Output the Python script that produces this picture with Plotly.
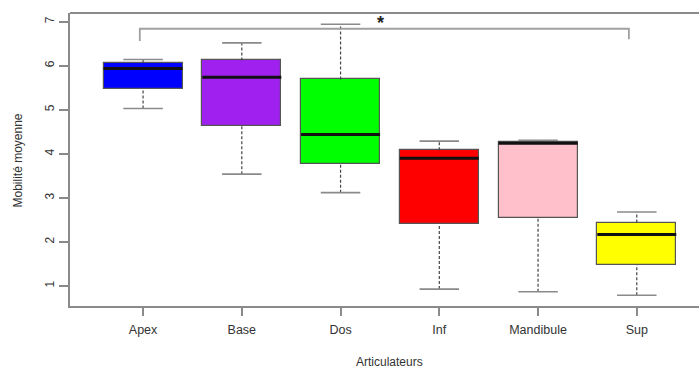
import plotly.graph_objects as go

# Boxplot summary statistics per articulator
categories = ["Apex", "Base", "Dos", "Inf", "Mandibule", "Sup"]
lower_whisker = [5.03, 3.54, 3.12, 0.93, 0.87, 0.79]
q1 = [5.48, 4.64, 3.78, 2.40, 2.55, 1.48]
median = [5.94, 5.74, 4.44, 3.90, 4.24, 2.17]
q3 = [6.06, 6.12, 5.69, 4.08, 4.27, 2.44]
upper_whisker = [6.14, 6.52, 6.94, 4.29, 4.31, 2.68]
box_colors = ["#0000FF", "#A020F0", "#00FF00", "#FF0000", "#FFC0CB", "#FFFF00"]

yticks = [1, 2, 3, 4, 5, 6, 7]

positions = list(range(1, len(categories) + 1))
box_w = 0.8
cap_w = 0.4
font_family = "Liberation Sans, Arial, sans-serif"
text_color = "#333333"
line_gray = "#8a8a8a"

fig = go.Figure()

# Whiskers (dashed) from box edges to extremes
wx, wy = [], []
for p, lo, a, b, hi in zip(positions, lower_whisker, q1, q3, upper_whisker):
    wx += [p, p, None, p, p, None]
    wy += [lo, a, None, b, hi, None]
fig.add_trace(go.Scatter(x=wx, y=wy, mode="lines",
                         line=dict(color="#444444", width=1.2, dash="3px,2px"),
                         hoverinfo="skip", showlegend=False))

# Whisker caps
cx, cy = [], []
for p, lo, hi in zip(positions, lower_whisker, upper_whisker):
    cx += [p - cap_w / 2, p + cap_w / 2, None, p - cap_w / 2, p + cap_w / 2, None]
    cy += [lo, lo, None, hi, hi, None]
fig.add_trace(go.Scatter(x=cx, y=cy, mode="lines",
                         line=dict(color=line_gray, width=1.6),
                         hoverinfo="skip", showlegend=False))

# Boxes (interquartile range)
fig.add_trace(go.Bar(x=positions, base=q1,
                     y=[b - a for a, b in zip(q1, q3)],
                     width=box_w,
                     marker=dict(color=box_colors,
                                 line=dict(color="#555555", width=1.2)),
                     hoverinfo="skip", showlegend=False))

# Medians
mx, my = [], []
for p, m in zip(positions, median):
    mx += [p - box_w / 2, p + box_w / 2, None]
    my += [m, m, None]
fig.add_trace(go.Scatter(x=mx, y=my, mode="lines",
                         line=dict(color="#111111", width=3),
                         hoverinfo="skip", showlegend=False))

# Significance bracket between Apex and Sup
bracket_x = [0.967, 0.967, 5.92, 5.92]
bracket_y = [6.56, 6.84, 6.84, 6.60]
fig.add_trace(go.Scatter(x=bracket_x, y=bracket_y, mode="lines",
                         line=dict(color="#a0a0a0", width=1.8),
                         hoverinfo="skip", showlegend=False))

fig.add_annotation(x=3.40, y=6.98, xref="x", yref="y", text="<b>*</b>",
                   showarrow=False, xanchor="center", yanchor="middle",
                   font=dict(family=font_family, size=18, color="#222222"))

# Axis titles
fig.add_annotation(x=0.5086, y=-0.191, xref="paper", yref="paper",
                   text="Articulateurs", showarrow=False,
                   xanchor="center", yanchor="middle",
                   font=dict(family=font_family, size=12, color=text_color))
fig.add_annotation(x=-0.082, y=0.498, xref="paper", yref="paper",
                   text="Mobilité moyenne", showarrow=False, textangle=-90,
                   xanchor="center", yanchor="middle",
                   font=dict(family=font_family, size=12, color=text_color))

# Top edge of the plot frame
fig.add_shape(type="line", xref="paper", yref="paper", x0=0, x1=1, y0=1, y1=1,
              line=dict(color=line_gray, width=1.8))

fig.update_layout(
    width=699, height=370,
    margin=dict(l=70, r=0, t=13, b=64),
    plot_bgcolor="white", paper_bgcolor="white",
    font=dict(family=font_family, size=12, color=text_color),
    bargap=0,
)
fig.update_xaxes(range=[0.26, 6.63], tickvals=positions, ticktext=categories,
                 showgrid=False, zeroline=False,
                 showline=True, linecolor=line_gray, linewidth=1.8,
                 ticks="outside", ticklen=8, tickcolor=line_gray, tickwidth=1.5,
                 ticklabelstandoff=3,
                 tickfont=dict(size=12.5, color=text_color))
fig.update_yaxes(range=[0.547, 7.197], tickvals=yticks,
                 showgrid=False, zeroline=False,
                 showline=True, linecolor=line_gray, linewidth=1.8,
                 ticks="outside", ticklen=9, tickcolor=line_gray, tickwidth=1.5,
                 tickangle=-90, tickfont=dict(size=12, color=text_color))

fig.write_html("out.html")
